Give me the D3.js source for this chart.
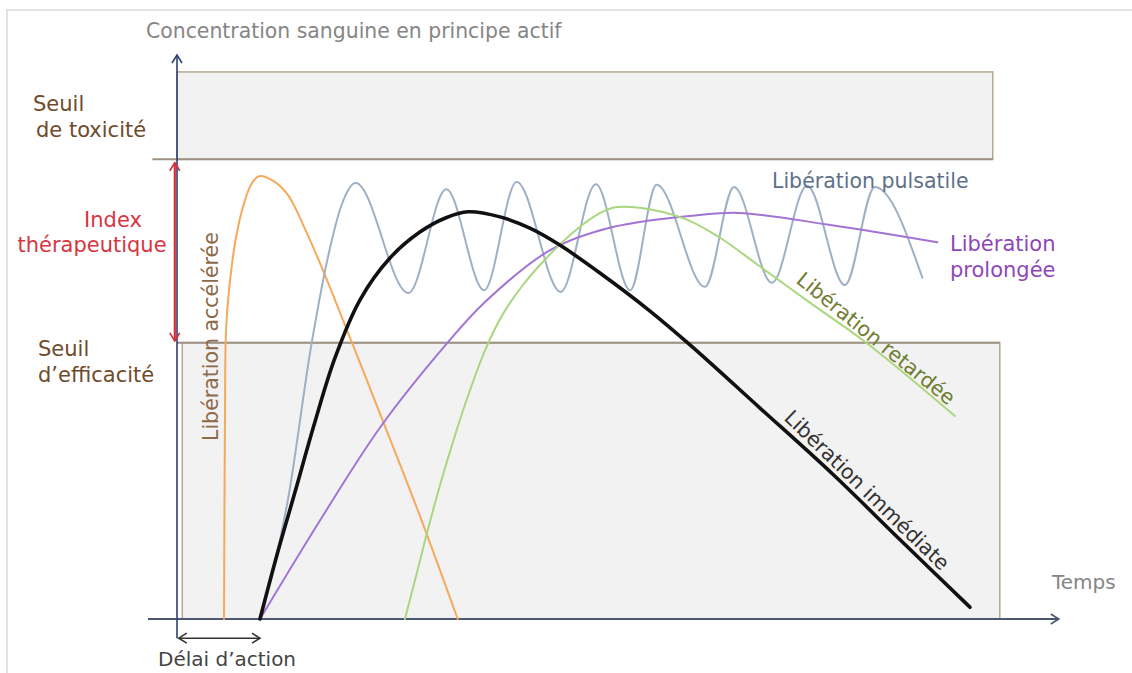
<!DOCTYPE html>
<html>
<head>
<meta charset="utf-8">
<script src="https://cdn.jsdelivr.net/npm/d3@7"></script>
<style>
    body { margin: 0; background: #fff; }
    svg { display: block; font-family: "DejaVu Sans", Verdana, sans-serif; }
</style>
</head>
<body>
<div id="chart"></div>
<script>
// seuils (concentration, unités arbitraires 0-100)
var seuilEfficacite = 49;
var seuilToxicite = 81.5;
var plafondToxicite = 97;

// courbes : [temps, concentration]
var liberationAcceleree = [[5.34, 0], [5.45, 35.3], [5.57, 51.2], [5.91, 58.3], [6.7, 67.6], [7.73, 74.3],
    [8.52, 77.3], [9.32, 78.5], [10.8, 77.8], [12.6, 75.2], [14.5, 69.3], [16.25, 63.1], [17.95, 56.6],
    [23.1, 36.3], [27.6, 18.3], [31.9, 0]];
var liberationImmediate = [[9.43, 0], [11.36, 11.35], [13.41, 22.5], [15.57, 34.4], [17.95, 46.3],
    [20.8, 56.6], [24.2, 64.0], [27.6, 68.6], [30.5, 71.1], [33.1, 72.2], [36.7, 71.3], [40.1, 69.3],
    [43.5, 66.3], [48.1, 61.3], [53.75, 54.6], [58.3, 48.6], [66.25, 37.4], [74.5, 25.7], [82.2, 14.0],
    [90.1, 2.1]];
var liberationPulsatile = [[9.43, 0], [12.6, 21.1], [15.3, 48.9], [17.2, 64.5], [18.7, 73.4], [20.3, 77.3],
    [26.3, 57.8], [30.6, 76.2], [34.9, 58.3], [38.6, 77.5], [43.6, 58.0], [47.6, 77.1], [51.5, 58.3],
    [54.5, 77.0], [60.0, 58.9], [63.3, 76.6], [67.6, 59.6], [71.6, 76.8], [75.9, 59.2], [79.3, 76.6],
    [84.7, 60.5]];
var liberationProlongee = [[9.43, 0], [16.3, 17.6], [23.1, 34.0], [30.7, 48.9], [35.0, 56.2], [42.4, 65.4],
    [49.5, 69.5], [59.1, 71.6], [63.9, 72.0], [74.1, 69.9], [86.4, 66.8]];
var liberationRetardee = [[25.9, 0], [27.2, 7.8], [28.4, 15.2], [29.9, 23.8], [31.6, 32.6], [33.3, 40.6],
    [35.1, 48.0], [37.05, 54.1], [39.2, 59.0], [41.8, 63.7], [45.2, 68.8], [48.1, 72.0], [49.8, 73.0],
    [52.6, 72.9], [57.8, 70.9], [61.7, 67.6], [65.9, 62.9], [72.0, 56.0], [78.4, 48.9], [88.4, 36.0]];

var debutAction = 9.43;

var width = 1132, height = 673;

var svg = d3.select("#chart").append("svg")
    .attr("width", width)
    .attr("height", height);

var x = d3.scaleLinear().domain([0, 100]).range([177, 1057]);
var y = d3.scaleLinear().domain([0, 100]).range([619, 55]);

// cadre léger autour de la figure
svg.append("rect")
    .attr("x", 7).attr("y", 10)
    .attr("width", width).attr("height", height)
    .attr("fill", "none")
    .attr("stroke", "#e2e2e2")
    .attr("stroke-width", 2);

// flèches ouvertes
var defs = svg.append("defs");
function chevron(id, color) {
    defs.append("marker")
        .attr("id", id)
        .attr("viewBox", "0 0 12 12")
        .attr("refX", 10)
        .attr("refY", 6)
        .attr("markerUnits", "userSpaceOnUse")
        .attr("markerWidth", 12)
        .attr("markerHeight", 12)
        .attr("orient", "auto-start-reverse")
        .append("path")
        .attr("d", "M2,1 L10,6 L2,11")
        .attr("fill", "none")
        .attr("stroke", color)
        .attr("stroke-width", 1.6);
}
chevron("arrowBlue", "#2f3f73");
chevron("arrowAxis", "#4b5870");
chevron("arrowRed", "#d22f3b");
chevron("arrowGray", "#333");

// zones grisées
svg.append("rect")
    .attr("x", x(0))
    .attr("y", y(plafondToxicite))
    .attr("width", x(92.7) - x(0))
    .attr("height", y(seuilToxicite) - y(plafondToxicite))
    .attr("fill", "#f2f2f2")
    .attr("stroke", "#b3a896")
    .attr("stroke-width", 1.5);

svg.append("line")
    .attr("x1", x(-2.8)).attr("x2", x(92.7))
    .attr("y1", y(seuilToxicite)).attr("y2", y(seuilToxicite))
    .attr("stroke", "#9c9283")
    .attr("stroke-width", 2);

svg.append("rect")
    .attr("x", x(0.6))
    .attr("y", y(seuilEfficacite))
    .attr("width", x(93.5) - x(0.6))
    .attr("height", y(0) - y(seuilEfficacite))
    .attr("fill", "#f2f2f2")
    .attr("stroke", "#b3a896")
    .attr("stroke-width", 1.5);

svg.append("line")
    .attr("x1", x(0)).attr("x2", x(93.5))
    .attr("y1", y(seuilEfficacite)).attr("y2", y(seuilEfficacite))
    .attr("stroke", "#9c9283")
    .attr("stroke-width", 2);

// axes
svg.append("line")
    .attr("x1", x(-3.3)).attr("x2", x(100.2))
    .attr("y1", y(0)).attr("y2", y(0))
    .attr("stroke", "#4b5870")
    .attr("stroke-width", 2)
    .attr("marker-end", "url(#arrowAxis)");

svg.append("line")
    .attr("x1", x(0)).attr("x2", x(0))
    .attr("y1", y(-3.4)).attr("y2", y(100))
    .attr("stroke", "#2f3f73")
    .attr("stroke-width", 1.6)
    .attr("marker-end", "url(#arrowBlue)");

// index thérapeutique
svg.append("line")
    .attr("x1", x(-0.25)).attr("x2", x(-0.25))
    .attr("y1", y(seuilToxicite - 0.6)).attr("y2", y(seuilEfficacite + 0.3))
    .attr("stroke", "#d22f3b")
    .attr("stroke-width", 2.2)
    .attr("marker-start", "url(#arrowRed)")
    .attr("marker-end", "url(#arrowRed)");

// délai d'action
svg.append("line")
    .attr("x1", x(0.2)).attr("x2", x(debutAction))
    .attr("y1", y(-3.4)).attr("y2", y(-3.4))
    .attr("stroke", "#333")
    .attr("stroke-width", 1.6)
    .attr("marker-start", "url(#arrowGray)")
    .attr("marker-end", "url(#arrowGray)");

// courbes : catmull-rom pour les courbes lisses, monotone pour les pics de la pulsatile
var lisse = d3.line()
    .x(function (d) { return x(d[0]); })
    .y(function (d) { return y(d[1]); })
    .curve(d3.curveCatmullRom.alpha(0.5));

var pics = d3.line()
    .x(function (d) { return x(d[0]); })
    .y(function (d) { return y(d[1]); })
    .curve(d3.curveMonotoneX);

var series = [
    { data: liberationAcceleree, color: "#f6a95a", w: 2, gen: lisse },
    { data: liberationPulsatile, color: "#9fb0c4", w: 2, gen: pics },
    { data: liberationProlongee, color: "#a174d6", w: 2, gen: lisse },
    { data: liberationRetardee, color: "#a9d77f", w: 2, gen: lisse },
    { data: liberationImmediate, color: "#111", w: 3.6, gen: lisse }
];

svg.append("g")
    .selectAll("path")
    .data(series)
    .enter()
    .append("path")
    .attr("d", function (d) { return d.gen(d.data); })
    .attr("fill", "none")
    .attr("stroke", function (d) { return d.color; })
    .attr("stroke-width", function (d) { return d.w; })
    .attr("stroke-linejoin", "round")
    .attr("stroke-linecap", "round");

// textes
function label(txt, px, py, color, size, anchor, rotate) {
    var t = svg.append("text")
        .attr("x", px)
        .attr("y", py)
        .attr("fill", color)
        .attr("font-size", size)
        .attr("text-anchor", anchor || "start")
        .text(txt);
    if (rotate) t.attr("transform", "rotate(" + rotate + "," + px + "," + py + ")");
    return t;
}

label("Concentration sanguine en principe actif", 146, 38, "#858585", 20.4);
label("Temps", 1052, 589, "#858585", 20);
label("Délai d\u2019action", 158, 666, "#444", 20);

label("Seuil", 33, 111, "#6e4b2b", 21);
label("de toxicité", 36, 137, "#6e4b2b", 21);
label("Index", 113, 227, "#d8353f", 21, "middle");
label("thérapeutique", 92, 252, "#d8353f", 21, "middle");
label("Seuil", 38, 356, "#6e4b2b", 21);
label("d\u2019efficacité", 38, 382, "#6e4b2b", 21);

label("Libération accélérée", 218, 441, "#8d6a48", 20.5, "start", -90);
label("Libération pulsatile", 772, 188, "#5e7089", 20.5);
label("Libération", 950, 251, "#8e47b8", 21);
label("prolongée", 950, 277, "#8e47b8", 21);
label("Libération retardée", 795, 282, "#6f7d30", 20.5, "start", 39);
label("Libération immédiate", 783, 419, "#333", 20.5, "start", 44);
</script>
</body>
</html>
